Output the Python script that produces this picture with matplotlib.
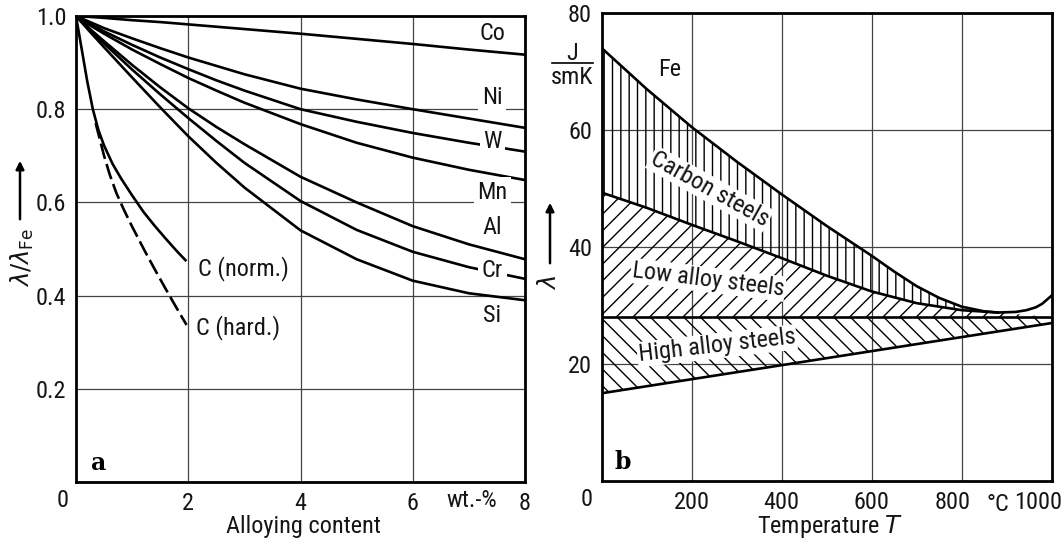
import matplotlib
matplotlib.use("Agg")
import matplotlib.pyplot as plt
from matplotlib import font_manager
from matplotlib.transforms import ScaledTranslation

# narrow lettering if one is installed, otherwise plain DejaVu Sans
names = {f.name for f in font_manager.fontManager.ttflist}
narrow = [n for n in ['Liberation Sans Narrow', 'DejaVu Sans Condensed', 'Roboto Condensed',
                      'Open Sans Condensed', 'Noto Sans Condensed'] if n in names]
condensed_files = [f for f in font_manager.fontManager.ttflist
                   if f.stretch in ('condensed', 'semi-condensed') and 'DejaVu Sans' == f.name]
plt.rcParams['font.family'] = narrow + ['DejaVu Sans']
if not narrow and condensed_files:
    plt.rcParams['font.stretch'] = 'condensed'
plt.rcParams['hatch.linewidth'] = 1.0
plt.rcParams['mathtext.fontset'] = 'dejavusans'

# --- (a) relative conductivity vs alloying content -------------------------
wt = [0, 0.25, 0.5, 1, 1.5, 2, 2.5, 3, 4, 5, 6, 7, 8]
co = [1.0, 0.998, 0.996, 0.991, 0.987, 0.982, 0.977, 0.972, 0.962, 0.951, 0.94, 0.928, 0.917]
ni = [1.0, 0.987, 0.974, 0.952, 0.931, 0.911, 0.893, 0.875, 0.844, 0.821, 0.80, 0.78, 0.76]
w = [1.0, 0.983, 0.967, 0.938, 0.911, 0.886, 0.862, 0.840, 0.80, 0.773, 0.749, 0.728, 0.709]
mn = [1.0, 0.98, 0.962, 0.928, 0.897, 0.867, 0.84, 0.814, 0.768, 0.728, 0.696, 0.67, 0.648]
al = [1.0, 0.972, 0.946, 0.895, 0.847, 0.802, 0.762, 0.725, 0.655, 0.600, 0.549, 0.51, 0.478]
cr = [1.0, 0.97, 0.941, 0.885, 0.832, 0.781, 0.732, 0.685, 0.603, 0.541, 0.494, 0.461, 0.436]
si = [1.0, 0.966, 0.933, 0.868, 0.804, 0.742, 0.685, 0.632, 0.540, 0.478, 0.432, 0.405, 0.39]

c_norm_x = [0, 0.1, 0.2, 0.3, 0.4, 0.5, 0.65, 0.8, 1.0, 1.2, 1.4, 1.6, 1.8, 1.95]
c_norm_y = [1.0, 0.93, 0.86, 0.80, 0.755, 0.722, 0.683, 0.652, 0.615, 0.58, 0.55, 0.522, 0.495, 0.476]
c_hard_x = [0.35, 0.5, 0.6, 0.72, 0.85, 1.0, 1.22, 1.4, 1.59, 1.78, 1.97]
c_hard_y = [0.77, 0.70, 0.66, 0.62, 0.585, 0.548, 0.497, 0.457, 0.416, 0.376, 0.337]

# --- (b) conductivity vs temperature ---------------------------------------
t_fe = [0, 100, 200, 300, 400, 500, 600, 650, 700, 750, 800, 850, 880, 920, 944, 965, 979, 1000]
lam_fe = [74.0, 67.0, 60.5, 54.6, 49.0, 43.6, 38.5, 35.8, 33.3, 31.3, 29.8, 29.0, 28.8, 28.9,
          29.2, 29.7, 30.3, 31.7]
t_low = [0, 100, 200, 300, 400, 500, 600, 700, 800, 880]
lam_low = [49.3, 46.7, 43.8, 41.0, 38.1, 35.1, 32.4, 30.4, 29.2, 28.8]
t_high = [0, 1000]
lam_high_top = [28.0, 28.0]
lam_high_bot = [15.0, 27.0]

TXT = 17.5
LW = 1.9
tick_col = '#151515'

fig = plt.figure(figsize=(10.64, 5.45), dpi=100)
ax1 = fig.add_axes([76 / 1064, 63 / 545, 449 / 1064, 466 / 545])
ax2 = fig.add_axes([601.7 / 1064, 64 / 545, 450 / 1064, 468 / 545])

for ax in (ax1, ax2):
    for s in ax.spines.values():
        s.set_linewidth(2.0)
    ax.grid(True, color='#444444', lw=0.9)
    ax.set_axisbelow(True)
    ax.tick_params(length=0, labelsize=TXT, labelcolor=tick_col)
    ax.tick_params(axis='x', pad=7)
    ax.tick_params(axis='y', pad=7)

# panel a
ax1.set_xlim(0, 8)
ax1.set_ylim(0, 1)
ax1.set_xticks([2, 4, 6, 8])
ax1.set_yticks([0.2, 0.4, 0.6, 0.8, 1.0])
ax1.set_yticklabels(['0.2', '0.4', '0.6', '0.8', '1.0'])

for ys in (co, ni, w, mn, al, cr, si):
    ax1.plot(wt, ys, color='k', lw=LW)
ax1.plot(c_norm_x, c_norm_y, color='k', lw=LW)
ax1.plot(c_hard_x, c_hard_y, color='k', lw=LW, dashes=(6, 2))

boxed = dict(boxstyle='square,pad=0.15', fc='white', ec='none')
for name, ty in [('Co', 0.963), ('Ni', 0.826), ('W', 0.73), ('Mn', 0.622),
                 ('Al', 0.547), ('Cr', 0.453), ('Si', 0.357)]:
    ax1.text(7.42, ty, name, fontsize=TXT, ha='center', va='center',
             color=tick_col, bbox=boxed)
ax1.text(2.17, 0.457, 'C (norm.)', fontsize=TXT, ha='left', va='center', color=tick_col)
ax1.text(2.14, 0.331, 'C (hard.)', fontsize=TXT, ha='left', va='center', color=tick_col)
ax1.text(0.05, 0.04, 'a', transform=ax1.transAxes, fontsize=17, fontweight='bold',
         family='DejaVu Serif', ha='center', va='center')
ax1.text(-0.03, -0.04, '0', transform=ax1.transAxes, fontsize=TXT, ha='center',
         va='center', color=tick_col)
ax1.text(7.06, -0.04, 'wt.-%', transform=ax1.get_xaxis_transform(), fontsize=TXT,
         ha='center', va='center', color=tick_col)
fig.text(303 / 1064, 1 - 527 / 545, 'Alloying content', fontsize=TXT, ha='center',
         va='center', color=tick_col)

fig.text(22 / 1064, 1 - 257 / 545, r'$\lambda/\lambda_{\mathrm{Fe}}$', rotation=90,
         fontsize=TXT, ha='center', va='center', color=tick_col)
ax1.annotate('', xy=(20, 545 - 158), xytext=(20, 545 - 222), xycoords='figure pixels',
             textcoords='figure pixels',
             arrowprops=dict(arrowstyle='-|>', lw=1.8, color='k', mutation_scale=12))

# panel b
ax2.set_xlim(0, 1000)
ax2.set_ylim(0, 80)
ax2.set_xticks([200, 400, 600, 800, 1000])
ax2.set_yticks([20, 40, 60, 80])

n_meet = t_fe.index(880) + 1
ax2.fill(t_fe[:n_meet] + t_low[::-1], lam_fe[:n_meet] + lam_low[::-1], facecolor='none',
         edgecolor='k', lw=0, hatch='||')
ax2.fill(t_low + t_high[::-1], lam_low + lam_high_top[::-1], facecolor='none',
         edgecolor='k', lw=0, hatch='//')
ax2.fill_between(t_high, lam_high_bot, lam_high_top, facecolor='none',
                 edgecolor='k', lw=0, hatch='\\\\')

ax2.plot(t_fe, lam_fe, color='k', lw=LW)
ax2.plot(t_low, lam_low, color='k', lw=LW)
ax2.plot(t_high, lam_high_top, color='k', lw=LW)
ax2.plot(t_high, lam_high_bot, color='k', lw=LW)

white = dict(boxstyle='square,pad=0.05', fc='white', ec='none')
ax2.text(152, 70.3, 'Fe', fontsize=TXT, ha='center', va='center', color=tick_col)
ax2.text(240, 49.9, 'Carbon steels', fontsize=TXT, rotation=-29, ha='center',
         va='center', color=tick_col, rotation_mode='anchor', bbox=white)
ax2.text(236, 34.4, 'Low alloy steels', fontsize=TXT, rotation=-7, ha='center',
         va='center', color=tick_col, rotation_mode='anchor', bbox=white)
ax2.text(256, 23.1, 'High alloy steels', fontsize=TXT, rotation=6.5, ha='center',
         va='center', color=tick_col, rotation_mode='anchor', bbox=white)
ax2.text(0.047, 0.04, 'b', transform=ax2.transAxes, fontsize=17, fontweight='bold',
         family='DejaVu Serif', ha='center', va='center')
ax2.text(-0.033, -0.04, '0', transform=ax2.transAxes, fontsize=TXT, ha='center',
         va='center', color=tick_col)
ax2.text(880, -0.05, '°C', transform=ax2.get_xaxis_transform(), fontsize=TXT,
         ha='center', va='center', color=tick_col)

# shift the crowded right-hand tick labels a little to the left
for lab, dx in zip(ax2.get_xticklabels(), [0, 0, 0, -9, -14]):
    lab.set_transform(lab.get_transform() + ScaledTranslation(dx / 100, 0, fig.dpi_scale_trans))

fig.text(830 / 1064, 1 - 527 / 545, r'Temperature $T$', fontsize=TXT, ha='center',
         va='center', color=tick_col)
fig.text(550 / 1064, 1 - 283 / 545, r'$\lambda$', rotation=90, fontsize=TXT,
         ha='center', va='center', color=tick_col)
ax2.annotate('', xy=(550, 545 - 200), xytext=(550, 545 - 266), xycoords='figure pixels',
             textcoords='figure pixels',
             arrowprops=dict(arrowstyle='-|>', lw=1.8, color='k', mutation_scale=12))

# unit J / smK as a stacked fraction
fig.text(572 / 1064, 1 - 53 / 545, 'J', fontsize=TXT, ha='center', va='center', color=tick_col)
fig.text(572 / 1064, 1 - 78 / 545, 'smK', fontsize=TXT, ha='center', va='center', color=tick_col)
fig.add_artist(plt.Line2D([552 / 1064, 593 / 1064], [1 - 63 / 545, 1 - 63 / 545],
                          color='k', lw=1.2))

fig.savefig('out.png', dpi=100)
